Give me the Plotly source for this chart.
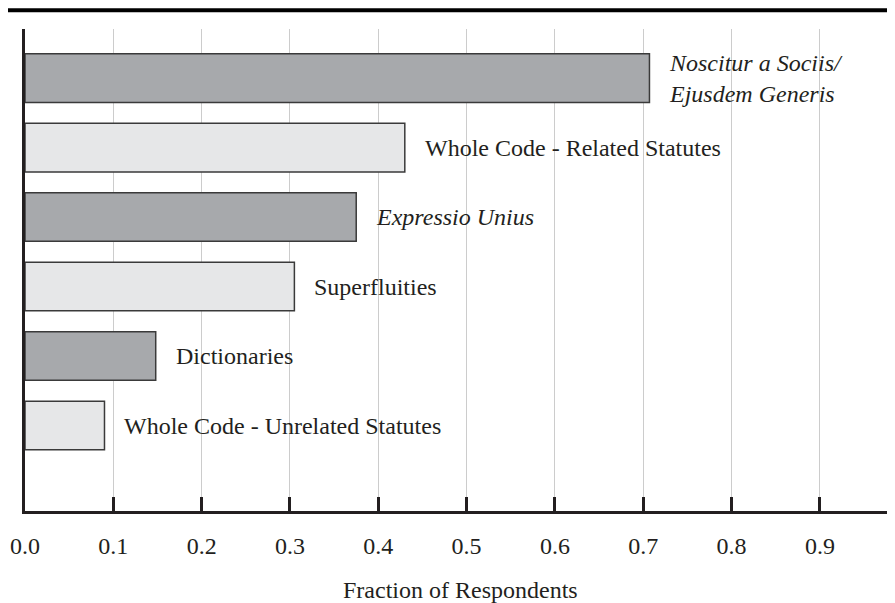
import plotly.graph_objs as go

# data, top to bottom
techniques = ["Noscitur a Sociis/Ejusdem Generis",
              "Whole Code - Related Statutes",
              "Expressio Unius",
              "Superfluities",
              "Dictionaries",
              "Whole Code - Unrelated Statutes"]
label_text = ["Noscitur a Sociis/<br>Ejusdem Generis",
              "Whole Code - Related Statutes",
              "Expressio Unius",
              "Superfluities",
              "Dictionaries",
              "Whole Code - Unrelated Statutes"]
italic = [True, False, True, False, False, False]
fraction = [0.707, 0.43, 0.375, 0.305, 0.148, 0.09]
tick_vals = [0.0, 0.1, 0.2, 0.3, 0.4, 0.5, 0.6, 0.7, 0.8, 0.9]
tick_text = ["0.0", "0.1", "0.2", "0.3", "0.4", "0.5", "0.6", "0.7", "0.8", "0.9"]

DARK = '#a7a9ac'
LIGHT = '#e6e7e8'
INK = '#231f20'
FONT = "Liberation Serif, Times New Roman, serif"

colors = [DARK if i % 2 == 0 else LIGHT for i in range(len(techniques))]

trace = go.Bar(x=fraction,
               y=techniques,
               orientation='h',
               width=0.7,
               marker=dict(color=colors, line=dict(color='#3a3a3a', width=1.5)),
               showlegend=False,
               hoverinfo='x+y')

fig = go.Figure(data=[trace])

for t, v, name, it in zip(label_text, fraction, techniques, italic):
    fig.add_annotation(x=v, y=name, text=t, showarrow=False,
                       xanchor='left', yanchor='middle', xshift=18, align='left',
                       font=dict(family=FONT, size=24, color=INK,
                                 style='italic' if it else 'normal'))

# axis title, placed by hand below the tick labels
fig.add_annotation(x=0.5, y=-0.163, xref='paper', yref='paper',
                   text='Fraction of Respondents', showarrow=False,
                   xanchor='center', yanchor='middle',
                   font=dict(family=FONT, size=24, color=INK))

# thick rule across the top
fig.add_shape(type='line', xref='paper', yref='paper',
              x0=-0.03, x1=1.0, y0=1.039, y1=1.039,
              line=dict(color='black', width=4))

# page body adds an 8px margin, so the figure is 8px smaller than the window
fig.update_layout(
    width=887,
    height=595,
    margin=dict(l=17, r=0, t=21, b=92, pad=0),
    plot_bgcolor='white',
    paper_bgcolor='white',
    font=dict(family=FONT, size=24, color=INK),
    xaxis=dict(range=[0, 0.985],
               tickvals=tick_vals,
               ticktext=tick_text,
               ticks='inside',
               ticklen=14,
               tickwidth=2.5,
               tickcolor=INK,
               ticklabelstandoff=11,
               showline=True,
               linecolor=INK,
               linewidth=3,
               showgrid=True,
               gridcolor='#cccccc',
               gridwidth=1,
               zeroline=False,
               automargin=False),
    yaxis=dict(range=[6.23, -0.706],
               showticklabels=False,
               ticks='',
               showline=True,
               linecolor=INK,
               linewidth=3,
               showgrid=False,
               zeroline=False,
               automargin=False),
)

fig.write_html("out.html")
